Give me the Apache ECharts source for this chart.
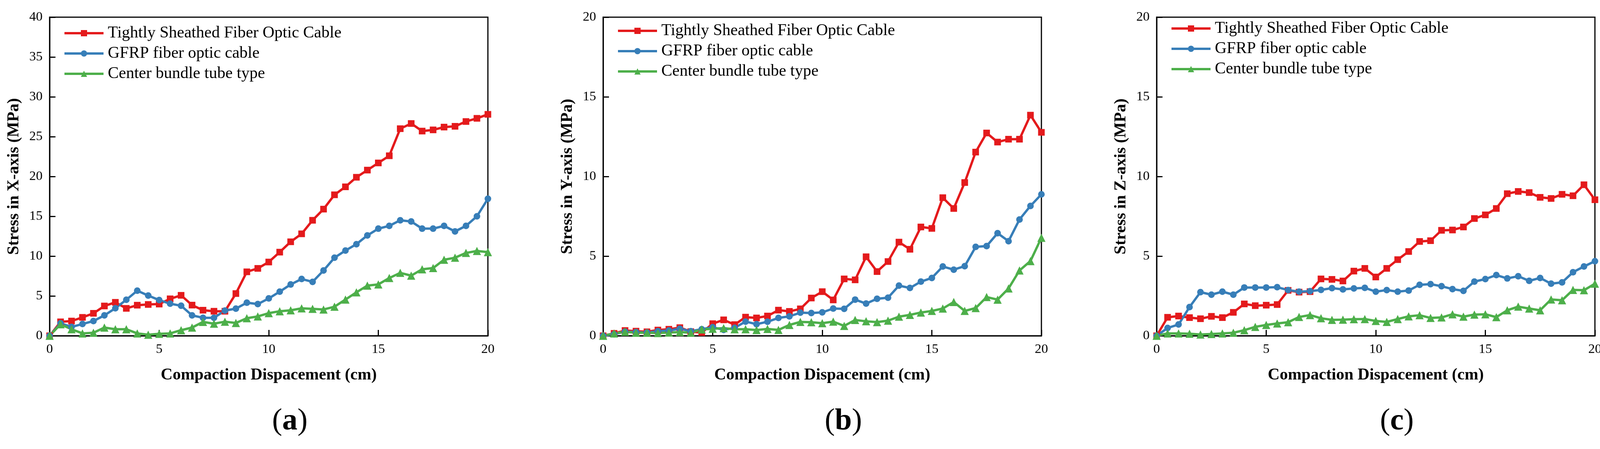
<!DOCTYPE html>
<html>
<head>
<meta charset="utf-8">
<script src="https://cdn.jsdelivr.net/npm/echarts@6/dist/echarts.min.js"></script>
<style>
  html, body { margin: 0; padding: 0; background: #fff; }
  #chart { width: 4122px; height: 1150px; }
</style>
</head>
<body>
<div id="chart"></div>
<script>
// compaction displacement (cm)
var displacement = [0, 0.5, 1, 1.5, 2, 2.5, 3, 3.5, 4, 4.5, 5, 5.5, 6, 6.5, 7, 7.5, 8, 8.5, 9, 9.5,
  10, 10.5, 11, 11.5, 12, 12.5, 13, 13.5, 14, 14.5, 15, 15.5, 16, 16.5, 17, 17.5, 18, 18.5, 19, 19.5, 20];

var seriesNames = ['Tightly Sheathed Fiber Optic Cable', 'GFRP fiber optic cable', 'Center bundle tube type'];

// (a) stress in X-axis (MPa)
var xTight = [0, 1.75, 1.85, 2.31, 2.82, 3.74, 4.2, 3.44, 3.84, 3.93, 3.98, 4.64, 5.08, 3.85, 3.21, 3.08, 3.08, 5.3, 8.03, 8.46,
  9.26, 10.5, 11.8, 12.8, 14.5, 15.9, 17.7, 18.7, 19.9, 20.8, 21.7, 22.6, 26.0, 26.65, 25.7, 25.85, 26.2, 26.3, 26.9, 27.3, 27.8];
var xGfrp = [0, 1.57, 1.11, 1.48, 1.85, 2.56, 3.46, 4.52, 5.66, 5.05, 4.48, 4.03, 3.77, 2.56, 2.26, 2.26, 3.16, 3.41, 4.15, 3.98,
  4.69, 5.54, 6.44, 7.13, 6.77, 8.2, 9.8, 10.7, 11.5, 12.6, 13.45, 13.8, 14.5, 14.35, 13.45, 13.45, 13.8, 13.1, 13.8, 15.0, 17.2];
var xBundle = [0, 1.45, 0.82, 0.3, 0.38, 1.03, 0.82, 0.82, 0.3, 0.13, 0.25, 0.3, 0.7, 1.03, 1.74, 1.52, 1.77, 1.61, 2.21, 2.43,
  2.84, 3.08, 3.2, 3.44, 3.38, 3.3, 3.65, 4.55, 5.45, 6.3, 6.45, 7.25, 7.9, 7.55, 8.35, 8.5, 9.55, 9.8, 10.4, 10.65, 10.5];

// (b) stress in Y-axis (MPa)
var yTight = [0, 0.15, 0.33, 0.29, 0.25, 0.36, 0.41, 0.51, 0.26, 0.2, 0.76, 1.0, 0.7, 1.17, 1.12, 1.24, 1.61, 1.53, 1.69, 2.37,
  2.77, 2.25, 3.57, 3.51, 4.96, 4.03, 4.66, 5.88, 5.43, 6.83, 6.74, 8.67, 7.99, 9.62, 11.53, 12.73, 12.16, 12.34, 12.34, 13.85, 12.77];
var yGfrp = [0, 0.1, 0.26, 0.23, 0.2, 0.29, 0.33, 0.44, 0.29, 0.41, 0.54, 0.37, 0.5, 0.89, 0.73, 0.88, 1.12, 1.22, 1.45, 1.43,
  1.47, 1.71, 1.69, 2.27, 2.02, 2.32, 2.39, 3.15, 3.0, 3.4, 3.63, 4.35, 4.15, 4.37, 5.58, 5.63, 6.44, 5.94, 7.3, 8.15, 8.88];
var yBundle = [0, 0.15, 0.25, 0.19, 0.19, 0.17, 0.2, 0.23, 0.19, 0.4, 0.44, 0.48, 0.41, 0.41, 0.36, 0.43, 0.37, 0.68, 0.87, 0.85,
  0.79, 0.89, 0.62, 0.99, 0.91, 0.86, 0.95, 1.2, 1.31, 1.46, 1.56, 1.71, 2.12, 1.56, 1.74, 2.43, 2.27, 2.97, 4.1, 4.69, 6.15];

// (c) stress in Z-axis (MPa)
var zTight = [0, 1.16, 1.24, 1.14, 1.07, 1.22, 1.14, 1.47, 2.0, 1.89, 1.92, 1.96, 2.85, 2.74, 2.77, 3.57, 3.54, 3.44, 4.06, 4.23,
  3.69, 4.23, 4.78, 5.29, 5.92, 5.97, 6.62, 6.64, 6.83, 7.36, 7.59, 7.99, 8.92, 9.06, 8.99, 8.69, 8.62, 8.88, 8.79, 9.48, 8.54];
var zGfrp = [0, 0.49, 0.71, 1.8, 2.74, 2.58, 2.77, 2.58, 3.03, 3.03, 3.03, 3.05, 2.87, 2.77, 2.8, 2.88, 2.99, 2.91, 2.97, 3.01,
  2.77, 2.87, 2.77, 2.84, 3.2, 3.24, 3.11, 2.93, 2.82, 3.4, 3.56, 3.81, 3.6, 3.74, 3.45, 3.63, 3.27, 3.35, 3.99, 4.35, 4.68];
var zBundle = [0, 0.15, 0.15, 0.13, 0.08, 0.11, 0.15, 0.19, 0.35, 0.56, 0.68, 0.77, 0.85, 1.18, 1.3, 1.1, 1.0, 1.01, 1.04, 1.05,
  0.93, 0.87, 1.05, 1.22, 1.29, 1.12, 1.15, 1.35, 1.2, 1.33, 1.35, 1.17, 1.6, 1.83, 1.71, 1.6, 2.28, 2.23, 2.88, 2.86, 3.27];

var yTitles = ['Stress in X-axis (MPa)', 'Stress in Y-axis (MPa)', 'Stress in Z-axis (MPa)'];
var yMax = [40, 20, 20];
var panelTags = ['a', 'b', 'c'];

var panels = [
  [xTight, xGfrp, xBundle],
  [yTight, yGfrp, yBundle],
  [zTight, zGfrp, zBundle]
];

var colors = ['#E41A1C', '#377EB8', '#4DAF4A'];
var symbols = ['rect', 'circle', 'triangle'];
var symbolSizes = [17, 17, 21];
var FONT = '"Liberation Serif", "Times New Roman", serif';

var gridLeft = [127, 1544, 2961];
var legendTop = [64, 58, 52];

var chart = echarts.init(document.getElementById('chart'), null, { renderer: 'canvas' });

var grids = [], xAxes = [], yAxes = [], series = [], legends = [], graphics = [];

panels.forEach(function (panel, p) {
  grids.push({
    left: gridLeft[p], top: 44, width: 1122, height: 816,
    show: true, borderColor: '#000', borderWidth: 3, containLabel: false
  });
  xAxes.push({
    gridIndex: p, type: 'value', min: 0, max: 20, interval: 5,
    name: 'Compaction Dispacement (cm)', nameLocation: 'middle', nameGap: 80,
    nameTextStyle: { fontFamily: FONT, fontWeight: 'bold', fontSize: 42, color: '#000' },
    axisLine: { show: true, onZero: false, lineStyle: { color: '#000', width: 3 } },
    axisTick: { show: true, inside: true, length: 15, lineStyle: { color: '#000', width: 3 } },
    axisLabel: { fontFamily: FONT, fontSize: 34, color: '#000', margin: 18 },
    splitLine: { show: false }
  });
  yAxes.push({
    gridIndex: p, type: 'value', min: 0, max: yMax[p], interval: 5,
    name: yTitles[p], nameLocation: 'middle', nameGap: 70,
    nameTextStyle: { fontFamily: FONT, fontWeight: 'bold', fontSize: 42, color: '#000' },
    axisLine: { show: true, lineStyle: { color: '#000', width: 3 } },
    axisTick: { show: true, inside: true, length: 15, lineStyle: { color: '#000', width: 3 } },
    axisLabel: { fontFamily: FONT, fontSize: 34, color: '#000', margin: 18 },
    splitLine: { show: false }
  });
  panel.forEach(function (vals, s) {
    series.push({
      name: seriesNames[s],
      type: 'line',
      xAxisIndex: p, yAxisIndex: p,
      data: displacement.map(function (d, i) { return [d, vals[i]]; }),
      symbol: symbols[s], symbolSize: symbolSizes[s], showAllSymbol: true,
      lineStyle: { color: colors[s], width: 6 },
      itemStyle: { color: colors[s] },
      animation: false
    });
  });
  legends.push({
    orient: 'vertical', left: gridLeft[p] + 35, top: legendTop[p],
    padding: 0, itemWidth: 100, itemHeight: 20, itemGap: 10,
    data: seriesNames,
    lineStyle: { width: 6 },
    textStyle: { fontFamily: FONT, fontSize: 42, color: '#000', padding: [0, 0, 0, 6] }
  });
  graphics.push({
    type: 'text', x: gridLeft[p] + 561 + 54, y: 1080,
    style: {
      text: '({b|' + panelTags[p] + '})',
      fontFamily: FONT, fontSize: 78, fill: '#000',
      align: 'center', verticalAlign: 'middle',
      rich: { b: { fontFamily: FONT, fontSize: 78, fontWeight: 'bold', fill: '#000' } }
    }
  });
});

chart.setOption({
  animation: false,
  color: colors,
  grid: grids,
  xAxis: xAxes,
  yAxis: yAxes,
  legend: legends,
  series: series,
  graphic: graphics
});
</script>
</body>
</html>
